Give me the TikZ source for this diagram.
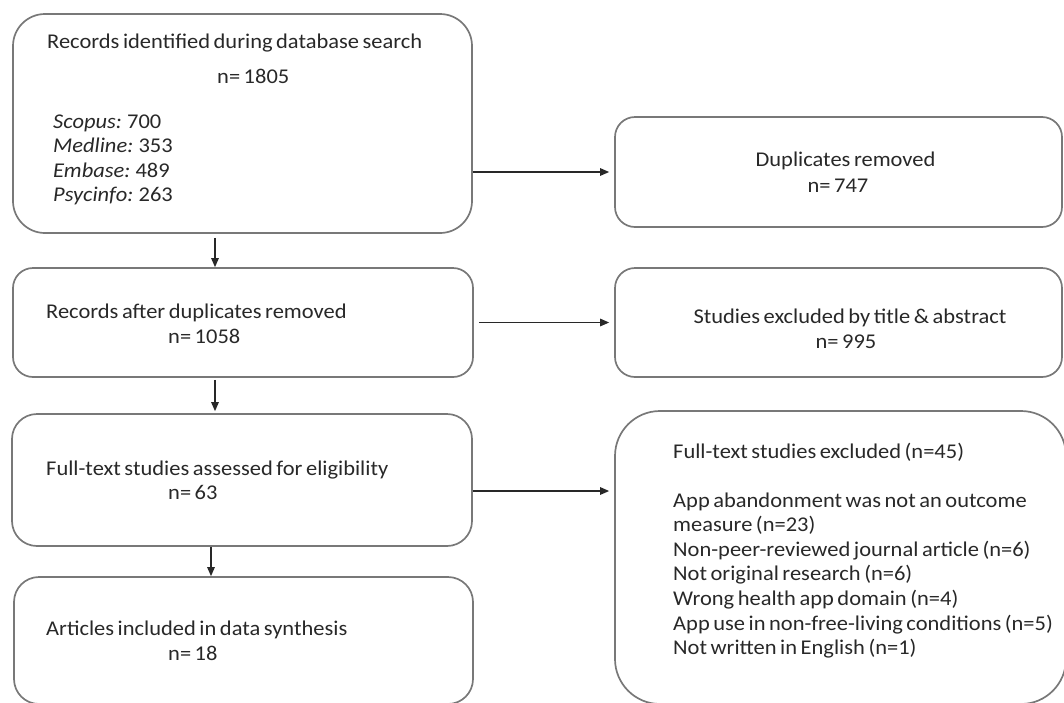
\documentclass[tikz,border=0pt]{standalone}
\usepackage{fontspec}
\setmainfont{Carlito}[WordSpace=0.7,FakeStretch=1.07]
\usetikzlibrary{arrows.meta}

\definecolor{boxgray}{RGB}{120,120,120}
\definecolor{inkgray}{RGB}{40,40,40}

\begin{document}
\begin{tikzpicture}[x=1pt,y=-1pt,->,>={Triangle[length=9pt,width=7.5pt]},shorten >=5pt,
  flow box/.style={draw=boxgray,line width=1.7pt,rounded corners=20pt},
  flow text/.style={anchor=base west,inner sep=0pt,text=inkgray,font=\fontsize{21}{24}\selectfont},
  mid text/.style={flow text,anchor=base}]

  \useasboundingbox (0,0) rectangle (1064,702);

  % left column
  \node[flow box,rounded corners=32pt,minimum width=459pt,minimum height=219pt] (search) at (242.5,123.5) {};
  \node[flow box,minimum width=460pt,minimum height=109pt] (dedup) at (243,322.5) {};
  \node[flow box,rounded corners=25pt,minimum width=460pt,minimum height=132pt] (fulltext) at (242,480) {};
  \node[flow box,rounded corners=25pt,minimum width=459pt,minimum height=127pt] (included) at (243.5,640.5) {};

  % right column
  \node[flow box,minimum width=447pt,minimum height=110pt] (dupl) at (838.5,172) {};
  \node[flow box,minimum width=447pt,minimum height=109pt] (excl) at (838.5,322.5) {};
  \node[flow box,rounded corners=45pt,minimum width=451pt,minimum height=293pt] (fullexcl) at (840.5,557.5) {};

  % texts
  \node[flow text] (search-t) at (47,48) {Records identified during database search};
  \node[flow text] (search-n) at (217,83) {n= 1805};
  \foreach \src [count=\i] in {{\textit{Scopus:} 700},{\textit{Medline:} 353},{\textit{Embase:} 489},{\textit{Psycinfo:} 263}}
    \node[flow text] (src\i) at (53,103.5+24.6*\i) {\src};

  \node[flow text] (dedup-t) at (46,318) {Records after duplicates removed};
  \node[flow text] (dedup-n) at (168,343) {n= 1058};
  \node[flow text] (fulltext-t) at (46,475) {Full-text studies assessed for eligibility};
  \node[flow text] (fulltext-n) at (168,499) {n= 63};
  \node[flow text] (included-t) at (46,635) {Articles included in data synthesis};
  \node[flow text] (included-n) at (168,660) {n= 18};

  \node[mid text] (dupl-t) at (845.5,166) {Duplicates removed};
  \node[mid text] (dupl-n) at (838,192) {n= 747};
  \node[mid text] (excl-t) at (850,323) {Studies excluded by title \& abstract};
  \node[mid text] (excl-n) at (846,348) {n= 995};

  \node[flow text] (fullexcl-t) at (673,458) {Full-text studies excluded (n=45)};
  \foreach \why [count=\i] in {App abandonment was not an outcome,measure (n=23),
      Non-peer-reviewed journal article (n=6),Not original research (n=6),
      Wrong health app domain (n=4),App use in non-free-living conditions (n=5),
      Not written in English (n=1)}
    \node[flow text] (why\i) at (673,482.4+24.6*\i) {\why};

  % connectors
  \path[inkgray,line width=1.3pt]
    (search.east |- dupl.west) edge (dupl.west)
    (dedup.east |- excl.west) edge[shorten <=5pt] (excl.west)
    ([yshift=-11pt]fulltext.east) edge ([yshift=-11pt]fulltext.east -| fullexcl.west);

  \path[inkgray,line width=1.3pt,shorten >=0pt]
    ([xshift=-27.5pt,yshift=-4pt]search.south) edge ([xshift=-27.5pt]search.south |- dedup.north)
    ([xshift=-28pt,yshift=-2pt]dedup.south) edge ([xshift=-28pt,yshift=2pt]dedup.south |- fulltext.north)
    ([xshift=-31pt]fulltext.south) edge ([xshift=-31pt]fulltext.south |- included.north);

\end{tikzpicture}
\end{document}
